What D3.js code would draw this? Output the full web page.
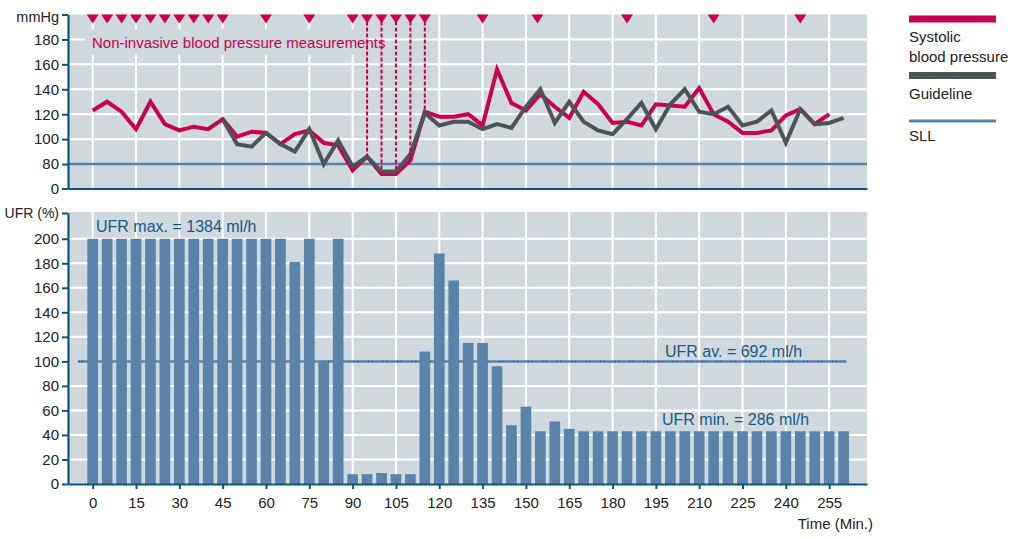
<!DOCTYPE html>
<html><head><meta charset="utf-8">
<script src="https://cdn.jsdelivr.net/npm/d3@7"></script>
<style>
body{margin:0;background:#fff;}
text{font-family:"Liberation Sans",Arial,sans-serif;}
</style>
</head><body><svg id="c" width="1019" height="539"></svg>
<script>
// ---------- data ----------
const bpTimes = d3.range(0, 256, 5);
const systolic = [123,130,122,108,130,112,107,110,108,116,
                  102,106,105,96,104,107,97,95,75,86,
                  72,72,83,122,118,118,120,111,156,129,
                  123,136,126,117,138,128,113,114,111,128,
                  127,126,141,120,114,105,105,107,119,124,
                  112,120];
const guideTimes = d3.range(45, 261, 5);
const guideline = [116,96,94,105,96,90,108,80,99,78,
                   86,74,74,88,121,111,114,114,108,112,
                   109,126,140,113,130,114,107,104,116,129,
                   108,128,140,122,120,126,111,114,123,97,
                   124,112,113,117];
const sllValue = 80;
const measureTimes = [0,5,10,15,20,25,30,35,40,45,60,75,90,95,100,105,110,115,135,154,185,215,245];
const dottedTimes = [95,100,105,110,115];
const ufrTimes = d3.range(0, 261, 5);
const ufr = [200,200,200,200,200,200,200,200,200,200,200,200,200,200,
             181,200,100,200,
             8,8,9,8,8,
             108,188,166,115,115,96,48,63,43,51,45,
             43,43,43,43,43,43,43,43,43,43,43,43,43,43,43,43,43,43,43];
const ufrAvg = 100;
const timeTicks = d3.range(0, 256, 15);
// broken axis: the bottom tick is labelled 0
const bpBreak = 60.4;
const bpTicks = [bpBreak,80,100,120,140,160,180,200];
const bpGrid = [100,120,140,160,180];
const ufrTicks = [0,20,40,60,80,100,120,140,160,180,200,221];
const ufrGrid = [20,40,60,80,120,140,160,180,200];
const legendItems = [
  {lines:["Systolic","blood pressure"], color:"#c8024f", w:7},
  {lines:["Guideline"], color:"#4d5458", w:7},
  {lines:["SLL"], color:"#5b83a9", w:3}
];

// ---------- styles ----------
const RED="#c8024f", GREY="#4d5458", STEEL="#5b83a9", BG="#cfd8dd", AX="#0e5577", TXT="#222", LBL="#1b5a7d";

const svg = d3.select("#c");
const L = 68, R = 867;
const x = d3.scaleLinear().domain([-8.55, 268.1]).range([L, R]);
const yT = d3.scaleLinear().domain([bpBreak, 200]).range([188.5, 14.5]);
const yB = d3.scaleLinear().domain([0, 221]).range([484, 213]);

// ---------- top panel ----------
const gTop = svg.append("g");
gTop.append("rect").attr("x", L).attr("y", yT(200)).attr("width", R - L).attr("height", yT(bpBreak) - yT(200)).attr("fill", BG);
gTop.selectAll(".hg").data(bpGrid).join("line")
  .attr("x1", L).attr("x2", R).attr("y1", d => yT(d)).attr("y2", d => yT(d))
  .attr("stroke", "#fff").attr("stroke-width", 2);
gTop.selectAll(".vg").data(timeTicks).join("line")
  .attr("x1", d => x(d)).attr("x2", d => x(d)).attr("y1", yT(200)).attr("y2", yT(bpBreak))
  .attr("stroke", "#fff").attr("stroke-width", 2);
// annotation
gTop.append("rect").attr("x", 85).attr("y", 29).attr("width", 282).attr("height", 26).attr("fill", BG);
gTop.append("text").attr("x", 92).attr("y", 48).attr("fill", RED).attr("font-size", 15)
  .text("Non-invasive blood pressure measurements");
// SLL
gTop.append("line").attr("x1", L).attr("x2", R).attr("y1", yT(sllValue)).attr("y2", yT(sllValue))
  .attr("stroke", STEEL).attr("stroke-width", 2.5);
// lines
const lineGen = d3.line().x(d => x(d[0])).y(d => yT(d[1]));
gTop.append("path").datum(bpTimes.map((t, i) => [t, systolic[i]]))
  .attr("d", lineGen).attr("fill", "none").attr("stroke", RED).attr("stroke-width", 4).attr("stroke-linejoin", "miter");
gTop.append("path").datum(guideTimes.map((t, i) => [t, guideline[i]]))
  .attr("d", lineGen).attr("fill", "none").attr("stroke", GREY).attr("stroke-width", 4).attr("stroke-linejoin", "miter");
// dotted verticals
gTop.selectAll(".dv").data(dottedTimes).join("line")
  .attr("x1", d => x(d)).attr("x2", d => x(d))
  .attr("y1", yT(200) + 7)
  .attr("y2", d => yT(systolic[bpTimes.indexOf(d)]))
  .attr("stroke", RED).attr("stroke-width", 2).attr("stroke-dasharray", "4,2");
// triangles
gTop.selectAll(".tri").data(measureTimes).join("path")
  .attr("d", d => { const cx = x(d), y0 = yT(200); return `M${cx-6},${y0}L${cx+6},${y0}L${cx},${y0+9}Z`; })
  .attr("fill", RED);
// axes
const yAxT = gTop.append("g").attr("transform", `translate(${L},0)`)
  .call(d3.axisLeft(yT).tickValues(bpTicks).tickSize(6).tickSizeOuter(0).tickPadding(3)
    .tickFormat(d => d === 200 ? "mmHg" : (d === bpBreak ? "0" : d)));
const xAxT = gTop.append("g").attr("transform", `translate(0,${yT(bpBreak)})`)
  .call(d3.axisBottom(x).tickValues([]).tickSizeOuter(0));

// ---------- bottom panel ----------
const gBot = svg.append("g");
gBot.append("rect").attr("x", L).attr("y", yB(221) - 1).attr("width", R - L).attr("height", yB(0) - yB(221) + 1).attr("fill", BG);
gBot.selectAll(".hg").data(ufrGrid).join("line")
  .attr("x1", L).attr("x2", R).attr("y1", d => yB(d)).attr("y2", d => yB(d))
  .attr("stroke", "#fff").attr("stroke-width", 2);
gBot.selectAll(".vg").data(timeTicks).join("line")
  .attr("x1", d => x(d)).attr("x2", d => x(d)).attr("y1", yB(221) - 1).attr("y2", yB(0))
  .attr("stroke", "#fff").attr("stroke-width", 2);
// average line (under bars)
gBot.append("line").attr("x1", x(-5)).attr("x2", x(261)).attr("y1", yB(ufrAvg)).attr("y2", yB(ufrAvg))
  .attr("stroke", STEEL).attr("stroke-width", 2.5);
gBot.append("line").attr("x1", x(-5)).attr("x2", x(261)).attr("y1", yB(ufrAvg)).attr("y2", yB(ufrAvg))
  .attr("stroke", "#1a2a3a").attr("stroke-width", 1).attr("stroke-dasharray", "1,2.5,1,10");
// bars
const bw = (x(5) - x(0)) * 0.74;
gBot.selectAll(".bar").data(ufrTimes.map((t, i) => [t, ufr[i]])).join("rect")
  .attr("x", d => x(d[0]) - bw / 2).attr("width", bw)
  .attr("y", d => yB(d[1])).attr("height", d => yB(0) - yB(d[1]))
  .attr("fill", STEEL);
// labels
gBot.append("text").attr("x", 96).attr("y", 232).attr("fill", LBL).attr("font-size", 16).text("UFR max. = 1384 ml/h");
gBot.append("text").attr("x", 665).attr("y", 357).attr("fill", LBL).attr("font-size", 16).text("UFR av. = 692 ml/h");
gBot.append("text").attr("x", 662).attr("y", 425).attr("fill", LBL).attr("font-size", 16).text("UFR min. = 286 ml/h");
// axes
const yAxB = gBot.append("g").attr("transform", `translate(${L},0)`)
  .call(d3.axisLeft(yB).tickValues(ufrTicks).tickSize(6).tickSizeOuter(0).tickPadding(3)
    .tickFormat(d => d === 221 ? "UFR (%)" : d));
const xAxB = gBot.append("g").attr("transform", `translate(0,${yB(0)})`)
  .call(d3.axisBottom(x).tickValues(timeTicks).tickSize(5).tickSizeOuter(0).tickPadding(8));
gBot.append("text").attr("x", 873).attr("y", 529).attr("text-anchor", "end").attr("fill", TXT).attr("font-size", 15).text("Time (Min.)");

// axis styling
[yAxT, xAxT, yAxB, xAxB].forEach(g => {
  g.select(".domain").attr("stroke", AX).attr("stroke-width", 2.2);
  g.selectAll(".tick line").attr("stroke", AX).attr("stroke-width", 2);
  g.selectAll(".tick text").attr("fill", TXT).attr("font-size", 15).attr("font-family", "Liberation Sans, Arial, sans-serif");
});
yAxT.selectAll(".tick text").filter(d => d === 200).attr("font-size", 14.5).attr("dy", "0.5em");
yAxB.selectAll(".tick text").filter(d => d === 221).attr("font-size", 14);

// ---------- legend ----------
const lg = svg.append("g");
const lyPos = [19, 75.5, 121];
legendItems.forEach((it, i) => {
  const y0 = lyPos[i];
  lg.append("line").attr("x1", 909).attr("x2", 996).attr("y1", y0).attr("y2", y0)
    .attr("stroke", it.color).attr("stroke-width", it.w);
  it.lines.forEach((t, j) => {
    lg.append("text").attr("x", 909).attr("y", y0 + 23 + j * 20 - (i === 2 ? 3 : 0))
      .attr("fill", TXT).attr("font-size", 15).text(t);
  });
});
</script>
</body></html>
